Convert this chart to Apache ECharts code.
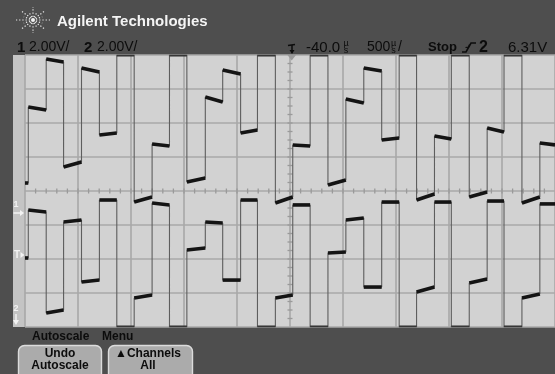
<!DOCTYPE html>
<html>
<head>
<meta charset="utf-8">
<script src="https://cdn.jsdelivr.net/npm/echarts/dist/echarts.min.js"></script>
<style>
  html, body { margin: 0; padding: 0; background: #4e4e4e; }
  #scope { width: 555px; height: 374px; }
</style>
</head>
<body>
<div id="scope"></div>
<script>
// Time base: 500 µs/div, 10 divisions centred on the trigger point.
const timeTicks = [-2500, -2000, -1500, -1000, -500, 0, 500, 1000, 1500, 2000, 2500];
// Vertical: 2.00 V/div, 8 divisions (screen volts).
const voltTicks = [-8, -6, -4, -2, 0, 2, 4, 6, 8];

// Symbol edge times (µs) of the captured multilevel burst.
const edgeTimes = [-2469, -2300, -2136, -1967, -1798, -1634, -1470, -1301, -1137, -973,
                   -799, -635, -466, -307, -138, 26, 190, 358, 527, 696,
                   865, 1030, 1194, 1363, 1522, 1691, 1860, 2019, 2188, 2357];

// Upper trace (channel 2): screen level at the start and end of each symbol.
// +8 / -8 means the trace is clipped at the graticule edge.
const ch2Start = [0.47, 4.94, 7.76, 1.41, 7.24, 3.29, 8, -0.65, 2.76, 8,
                  0.53, 5.53, 7.12, 3.41, 8, -0.71, 2.71, 8, 0.35, 5.41,
                  7.24, 3.00, 8, -0.53, 3.24, 8, -0.35, 3.71, 8, -0.71, 2.82];
const ch2End   = [0.47, 4.76, 7.59, 1.71, 7.00, 3.41, 8, -0.35, 2.65, 8,
                  0.76, 5.24, 6.88, 3.59, 8, -0.35, 2.65, 8, 0.65, 5.18,
                  7.06, 3.12, 8, -0.18, 3.06, 8, -0.06, 3.47, 8, -0.35, 2.71];

// Lower trace (channel 1).
const ch1Start = [-3.94, -1.12, -7.18, -1.82, -5.35, -0.53, -8, -6.29, -0.71, -8,
                  -3.47, -1.82, -5.24, -0.53, -8, -6.29, -0.82, -8, -3.65, -1.71,
                  -5.65, -0.65, -8, -5.94, -0.65, -8, -5.41, -0.59, -8, -6.29, -0.76];
const ch1End   = [-3.94, -1.24, -7.00, -1.71, -5.24, -0.53, -8, -6.12, -0.82, -8,
                  -3.35, -1.88, -5.24, -0.53, -8, -6.12, -0.82, -8, -3.59, -1.59,
                  -5.65, -0.65, -8, -5.65, -0.65, -8, -5.18, -0.59, -8, -6.06, -0.76];

const T_MIN = timeTicks[0], T_MAX = timeTicks[timeTicks.length - 1];
const V_MIN = voltTicks[0], V_MAX = voltTicks[voltTicks.length - 1];

function symbolSpan(i) {
  const a = i === 0 ? T_MIN : edgeTimes[i - 1];
  const b = i === edgeTimes.length ? T_MAX : edgeTimes[i];
  return [a, b];
}

// Continuous step trace (thin line, shows the edges).
function stepTrace(starts, ends) {
  const pts = [];
  for (let i = 0; i < starts.length; i++) {
    const [a, b] = symbolSpan(i);
    pts.push([a, starts[i]], [b, ends[i]]);
  }
  return pts;
}

// One item per symbol level: [tStart, vStart, tEnd, vEnd].
function levelItems(starts, ends) {
  const items = [];
  for (let i = 0; i < starts.length; i++) {
    const [a, b] = symbolSpan(i);
    items.push([a, starts[i], b, ends[i]]);
  }
  return items;
}

function renderLevel(params, api) {
  const v0 = api.value(1), v1 = api.value(3);
  const p0 = api.coord([api.value(0), v0]);
  const p1 = api.coord([api.value(2), v1]);
  const clipped = Math.abs(v0) >= V_MAX;
  if (clipped) {
    const nudge = v0 > 0 ? 0.8 : -0.8;
    return { type: 'line',
      shape: { x1: p0[0], y1: p0[1] + nudge, x2: p1[0], y2: p1[1] + nudge },
      style: { stroke: '#2e2e2e', lineWidth: 1.4 } };
  }
  return { type: 'line',
    shape: { x1: p0[0], y1: p0[1], x2: p1[0], y2: p1[1] },
    style: { stroke: '#141414', lineWidth: 3.6, lineCap: 'butt' } };
}

// Centre cross with minor tick marks.
function renderCentreTicks(params, api) {
  const children = [];
  const step = (timeTicks[1] - timeTicks[0]) / 5;
  for (let t = T_MIN + step; t < T_MAX; t += step) {
    const p = api.coord([t, 0]);
    children.push({ type: 'line', shape: { x1: p[0], y1: p[1] - 2.5, x2: p[0], y2: p[1] + 2.5 },
      style: { stroke: '#9a9a9a', lineWidth: 1.3 } });
  }
  const vstep = (voltTicks[1] - voltTicks[0]) / 4;
  for (let v = V_MIN + vstep; v < V_MAX; v += vstep) {
    const p = api.coord([0, v]);
    children.push({ type: 'line', shape: { x1: p[0] - 2.5, y1: p[1], x2: p[0] + 2.5, y2: p[1] },
      style: { stroke: '#9a9a9a', lineWidth: 1.3 } });
  }
  return { type: 'group', children };
}

const chart = echarts.init(document.getElementById('scope'), null, { renderer: 'canvas' });

const FONT = '"Liberation Sans", Arial, sans-serif';

// Agilent spark logo.
function sparkLogo(cx, cy) {
  const els = [];
  for (let k = 0; k < 16; k++) {
    const ang = k * Math.PI / 8;
    const long = k % 2 === 0;
    const rx = long ? 17 : 10, ry = long ? 13 : 8;
    els.push({ type: 'line', shape: { x1: cx + Math.cos(ang) * 3, y1: cy + Math.sin(ang) * 3,
      x2: cx + Math.cos(ang) * rx, y2: cy + Math.sin(ang) * ry },
      style: { stroke: '#e6e6e6', lineWidth: 1.2, lineDash: [1.3, 1.9] }, z: 100 });
  }
  els.push({ type: 'circle', shape: { cx, cy, r: 2 }, style: { fill: '#f2f2f2' }, z: 100 });
  return els;
}

function txt(text, x, y, font, fill, align) {
  return { type: 'text', x, y, z: 100,
    style: { text, font, fill: fill || '#0c0c0c', align: align || 'left', verticalAlign: 'middle' } };
}

function stackedUnit(x, y) {
  return [
    txt('µ', x, y - 3.5, '9px ' + FONT, '#0c0c0c', 'center'),
    txt('s', x, y + 3.5, '9px ' + FONT, '#0c0c0c', 'center')
  ];
}

const graphics = [
  // marker strip left of the graticule
  { type: 'rect', shape: { x: 13, y: 55, width: 12, height: 272 }, style: { fill: '#c4c4c4' }, z: -1 },
  ...sparkLogo(33, 20),
  txt('Agilent Technologies', 57, 21.5, 'bold 15px ' + FONT, '#f4f4f4'),
  // channel scale readouts
  txt('1', 17, 47.5, 'bold 15px ' + FONT),
  txt('2.00V/', 29, 47.5, '14px ' + FONT),
  txt('2', 84, 47.5, 'bold 15px ' + FONT),
  txt('2.00V/', 97, 47.5, '14px ' + FONT),
  // trigger position icon
  { type: 'polyline', shape: { points: [[288, 45.5], [295, 44.5]] }, style: { stroke: '#0c0c0c', lineWidth: 1.5 }, z: 100 },
  { type: 'polyline', shape: { points: [[292, 45], [292, 52.5]] }, style: { stroke: '#0c0c0c', lineWidth: 1.5 }, z: 100 },
  { type: 'polygon', shape: { points: [[289.5, 50], [294.5, 50], [292, 54]] }, style: { fill: '#0c0c0c' }, z: 100 },
  txt('-40.0', 306, 47.5, '15px ' + FONT),
  ...stackedUnit(346, 47.5),
  txt('500', 367, 47.5, '14px ' + FONT),
  ...stackedUnit(393.5, 47.5),
  txt('/', 398, 47.5, '14px ' + FONT),
  txt('Stop', 428, 47.5, 'bold 13px ' + FONT),
  // trigger slope icon
  { type: 'polyline', shape: { points: [[462, 52], [466, 52], [471, 43], [476, 43]] }, style: { stroke: '#0c0c0c', lineWidth: 1.6 }, z: 100 },
  { type: 'polyline', shape: { points: [[465.5, 47.5], [468.5, 47.2], [469.5, 44.5]] }, style: { stroke: '#0c0c0c', lineWidth: 1.2 }, z: 100 },
  txt('2', 479, 47.5, 'bold 16px ' + FONT),
  txt('6.31V', 508, 47.5, '15px ' + FONT),
  // trigger point marker on the top edge
  { type: 'polygon', shape: { points: [[287.5, 55], [296, 55], [291.7, 60.5]] }, style: { fill: '#9a9a9a' }, z: 100 },
  // ground / trigger level markers
  txt('1', 16, 205, 'bold 9px ' + FONT, '#f3f3f3', 'center'),
  { type: 'polyline', shape: { points: [[13.5, 213], [22, 213]] }, style: { stroke: '#f3f3f3', lineWidth: 1.5 }, z: 100 },
  { type: 'polygon', shape: { points: [[20, 210], [24, 213], [20, 216]] }, style: { fill: '#f3f3f3' }, z: 100 },
  txt('T', 17, 255, 'bold 10px ' + FONT, '#f3f3f3', 'center'),
  { type: 'polygon', shape: { points: [[20.5, 252], [24.5, 255], [20.5, 258]] }, style: { fill: '#f3f3f3' }, z: 100 },
  txt('2', 16, 309, 'bold 9px ' + FONT, '#f3f3f3', 'center'),
  { type: 'polyline', shape: { points: [[16, 314], [16, 322]] }, style: { stroke: '#f3f3f3', lineWidth: 1.5 }, z: 100 },
  { type: 'polygon', shape: { points: [[13, 320], [16, 325], [19, 320]] }, style: { fill: '#f3f3f3' }, z: 100 },
  // softkey menu
  txt('Autoscale', 32, 336.5, 'bold 12px ' + FONT),
  txt('Menu', 102, 336.5, 'bold 12px ' + FONT),
  { type: 'rect', shape: { x: 18.5, y: 345.5, width: 83, height: 34, r: 6 }, style: { fill: '#ababab', stroke: '#dcdcdc', lineWidth: 1.4 }, z: 99 },
  { type: 'rect', shape: { x: 108.5, y: 345.5, width: 84, height: 34, r: 6 }, style: { fill: '#ababab', stroke: '#dcdcdc', lineWidth: 1.4 }, z: 99 },
  txt('Undo', 60, 353.5, 'bold 12px ' + FONT, '#0c0c0c', 'center'),
  txt('Autoscale', 60, 366, 'bold 12px ' + FONT, '#0c0c0c', 'center'),
  txt('▲Channels', 148, 353.5, 'bold 12px ' + FONT, '#0c0c0c', 'center'),
  txt('All', 148, 366, 'bold 12px ' + FONT, '#0c0c0c', 'center')
];

const gridColor = '#a8a8a8';

chart.setOption({
  backgroundColor: '#4e4e4e',
  animation: false,
  grid: { left: 25, top: 55, width: 533, height: 272, show: true,
          backgroundColor: '#d2d2d2', borderWidth: 0 },
  xAxis: {
    type: 'value', min: T_MIN, max: T_MAX, interval: timeTicks[1] - timeTicks[0],
    axisLine: { show: false }, axisTick: { show: false }, axisLabel: { show: false },
    splitLine: { show: true, lineStyle: { color: gridColor, width: 1.6 } }
  },
  yAxis: {
    type: 'value', min: V_MIN, max: V_MAX, interval: voltTicks[1] - voltTicks[0],
    axisLine: { show: false }, axisTick: { show: false }, axisLabel: { show: false },
    splitLine: { show: true, lineStyle: { color: gridColor, width: 1.6 } }
  },
  graphic: { elements: graphics },
  series: [
    { type: 'custom', name: 'centre', data: [[0, 0]], renderItem: renderCentreTicks,
      silent: true, z: 1, clip: false },
    { type: 'line', name: 'Channel 2 edges', data: stepTrace(ch2Start, ch2End),
      showSymbol: false, clip: false, z: 3,
      lineStyle: { color: '#5e5e5e', width: 1.1 } },
    { type: 'line', name: 'Channel 1 edges', data: stepTrace(ch1Start, ch1End),
      showSymbol: false, clip: false, z: 3,
      lineStyle: { color: '#5e5e5e', width: 1.1 } },
    { type: 'custom', name: 'Channel 2', data: levelItems(ch2Start, ch2End),
      encode: { x: [0, 2], y: [1, 3] }, renderItem: renderLevel, clip: false, z: 4 },
    { type: 'custom', name: 'Channel 1', data: levelItems(ch1Start, ch1End),
      encode: { x: [0, 2], y: [1, 3] }, renderItem: renderLevel, clip: false, z: 4 }
  ]
});
</script>
</body>
</html>
